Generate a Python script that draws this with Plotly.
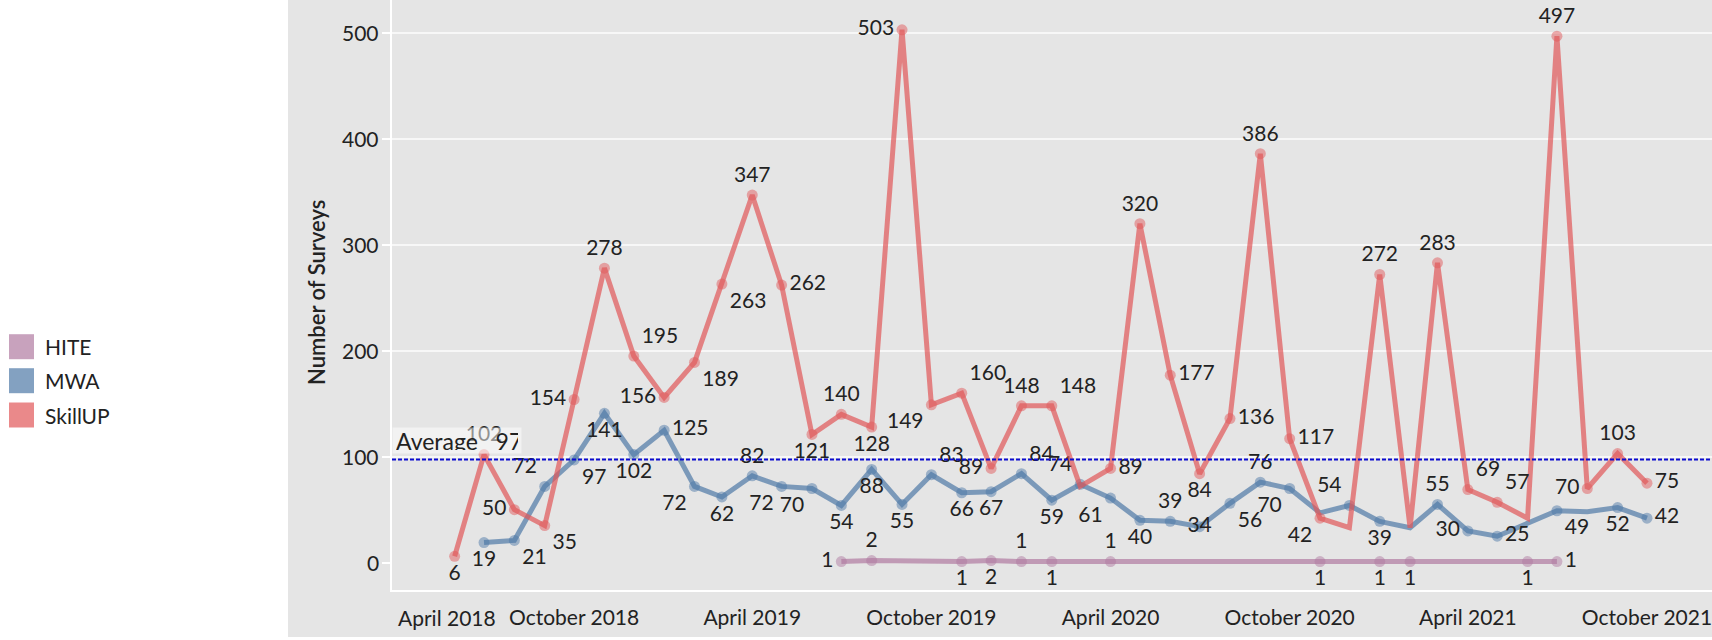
import pandas as pd
import plotly.graph_objects as go

# ---------------- data ----------------
months = [d.strftime("%Y-%m-%d") for d in pd.date_range("2018-06-01", "2021-10-01", freq="MS")]

series_names = ["HITE", "MWA", "SkillUP"]

#            Jun18..Dec18
skillup = [6, 102, 50, 35, 154, 278, 195,
           # 2019
           156, 189, 263, 347, 262, 121, 140, 128, 503, 149, 160, 89,
           # 2020
           148, 148, 72, 89, 320, 177, 84, 136, 386, 117, 42, 33,
           # 2021 Jan..Oct
           272, 33, 283, 69, 57, 42, 497, 70, 103, 75]

mwa = [None, 19, 21, 72, 97, 141, 102,
       125, 72, 62, 82, 72, 70, 54, 88, 55, 83, 66, 67,
       84, 59, 74, 61, 40, 39, 34, 56, 76, 70, 47, 54,
       39, 33, 55, 30, 25, 37, 49, 48, 52, 42]

hite = [None, None, None, None, None, None, None,
        None, None, None, None, None, None, 1, 2, None, None, 1, 2,
        1, 1, None, 1, None, None, None, None, None, None, 1, None,
        1, 1, None, None, None, 1, 1, None, None, None]

tick_dates = ["2018-04-01", "2018-10-01", "2019-04-01", "2019-10-01",
              "2020-04-01", "2020-10-01", "2021-04-01", "2021-10-01"]
tick_labels = ["April 2018", "October 2018", "April 2019", "October 2019",
               "April 2020", "October 2020", "April 2021", "October 2021"]
y_ticks = [0, 100, 200, 300, 400, 500]

# ---------------- label placement (style) ----------------
skillup_pos = ["bottom center", "top center", "middle left", "bottom right", "middle left", "top center", "top right",
               "middle left", "bottom right", "bottom right", "top center", "middle right", "bottom center",
               "top center", "bottom center", "middle left", "bottom left", "top right", "middle left",
               "top center", "top right", None, "middle right", "top center", "middle right", "bottom center",
               "middle right", "top center", "middle right", "bottom left", None,
               "top center", None, "top center", "top right", "top right", None, "top center", "middle left",
               "top center", "middle right"]
mwa_pos = [None, "bottom center", "bottom right", "top left", "bottom right", "bottom center", "bottom center",
           "middle right", "bottom left", "bottom center", "top center", "bottom left", "bottom left",
           "bottom center", "bottom center", "bottom center", "top right", "bottom center", "bottom center",
           "top right", "bottom center", "top left", "bottom left", "bottom center", "top center", "middle center",
           "bottom right", "top center", "bottom left", None, "top left",
           "bottom center", None, "top center", "middle left", "middle right", None, "bottom right", None,
           "bottom center", "middle right"]
hite_pos = [None] * 13 + ["middle left", "top center", None, None, "bottom center", "bottom center",
                          "top center", "bottom center", None, "top center"] + [None] * 6 + \
           ["bottom center", None, "bottom center", "bottom center", None, None, None,
            "bottom center", "middle right", None, None, None]

# ---------------- styling ----------------
FONT = "Lato"
TXT = "#222222"
BG = "#e5e5e5"
line_colors = {"HITE": "rgba(176,122,161,0.7)",
               "MWA": "rgba(78,121,167,0.7)",
               "SkillUP": "rgba(225,87,89,0.7)"}

W, H = 1712, 640
PL, PR, PT, PB = 392, 1712, 0, 590


def px_x(px):
    return (px - PL) / (PR - PL)


def px_y(py):
    return (PB - py) / (PB - PT)


fig = go.Figure()

data_map = {"HITE": (hite, hite_pos), "MWA": (mwa, mwa_pos), "SkillUP": (skillup, skillup_pos)}
for name in series_names:
    vals, pos = data_map[name]
    text = [(str(v) if (v is not None and p is not None) else "") for v, p in zip(vals, pos)]
    sizes = [11 if p is not None else 0 for p in pos]
    tpos = [p if p is not None else "top center" for p in pos]
    fig.add_trace(go.Scatter(
        x=months, y=vals, name=name, mode="lines+markers+text",
        connectgaps=True,
        line=dict(color=line_colors[name], width=5),
        marker=dict(color=line_colors[name], size=sizes, line=dict(width=0)),
        text=text, textposition=tpos,
        textfont=dict(family=FONT, size=21, color=TXT),
        cliponaxis=False, showlegend=False, hoverinfo="x+y+name",
    ))

all_vals = [v for s in (hite, mwa, skillup) for v in s if v is not None]
average = sum(all_vals) / len(all_vals)

shapes = [
    # gray pane around axes
    dict(type="rect", xref="paper", yref="paper", x0=px_x(288), x1=0, y0=px_y(637), y1=1,
         fillcolor=BG, line=dict(width=0), layer="below"),
    dict(type="rect", xref="paper", yref="paper", x0=0, x1=1, y0=px_y(637), y1=0,
         fillcolor=BG, line=dict(width=0), layer="below"),
    # zero line
    dict(type="line", xref="paper", yref="y", x0=0, x1=1, y0=0, y1=0,
         line=dict(color="#c9c9c9", width=1.2, dash="4px,3px"), layer="between"),
    # average reference line
    dict(type="line", xref="paper", yref="y", x0=0, x1=1, y0=average, y1=average,
         line=dict(color="#0a0ad0", width=2, dash="4px,2px"), layer="above"),
]

annotations = [
    dict(text="Number of Surveys", xref="paper", yref="paper", x=px_x(316), y=px_y(293),
         textangle=-90, showarrow=False, xanchor="center", yanchor="middle",
         font=dict(family=FONT, size=22, color=TXT, weight=600)),
    dict(text="Average\u00a0\u00a0\u00a0" + str(round(average)), xref="paper", yref="y", x=0, y=average,
         xanchor="left", yanchor="bottom", yshift=6, showarrow=False, align="left",
         width=122, height=19, borderpad=3, bgcolor="rgba(255,255,255,0.5)",
         font=dict(family=FONT, size=23, color=TXT)),
    dict(text=tick_labels[0], xref="x", yref="paper", x=tick_dates[0], y=px_y(617),
         xanchor="left", yanchor="middle", showarrow=False, xshift=1,
         font=dict(family=FONT, size=21, color=TXT)),
]

# y tick labels (placed exactly, right-aligned next to the ticks)
for v in y_ticks:
    annotations.append(dict(text=str(v), xref="paper", yref="y", x=px_x(381), y=v,
                            xanchor="right", yanchor="middle", showarrow=False,
                            font=dict(family=FONT, size=21, color=TXT)))

# legend (manual, square swatches)
row_y = [346.7, 380.7, 415.0]
for name, ry in zip(series_names, row_y):
    shapes.append(dict(type="rect", xref="paper", yref="paper",
                       x0=px_x(9), x1=px_x(34), y0=px_y(ry + 12.5), y1=px_y(ry - 12.5),
                       fillcolor=line_colors[name], line=dict(width=0)))
    annotations.append(dict(text=name, xref="paper", yref="paper", x=px_x(43), y=px_y(ry),
                            xanchor="left", yanchor="middle", showarrow=False,
                            font=dict(family=FONT, size=21, color=TXT)))

fig.update_layout(
    width=W, height=H,
    margin=dict(l=PL, r=W - PR, t=PT, b=H - PB, pad=0),
    paper_bgcolor="white", plot_bgcolor=BG,
    font=dict(family=FONT, size=21, color=TXT),
    shapes=shapes, annotations=annotations,
    xaxis=dict(type="date", range=["2018-03-29", "2021-12-06 10:00"],
               tickvals=tick_dates[1:], ticktext=tick_labels[1:],
               showgrid=False, zeroline=False, showline=True, linecolor="white", linewidth=1.5,
               ticks="", ticklabelstandoff=8, ticklabeloverflow="allow",
               tickfont=dict(family=FONT, size=21, color=TXT)),
    yaxis=dict(range=[-25.8, 531.1], tickvals=y_ticks, showticklabels=False,
               showgrid=True, gridcolor="#f7f7f7", gridwidth=1.5,
               zeroline=True, zerolinecolor=BG, zerolinewidth=2,
               showline=True, linecolor="white", linewidth=1.5,
               ticks="outside", ticklen=8, tickcolor="white", tickwidth=1.5),
)

fig.write_html("out.html", config={"displayModeBar": False},
               post_script="document.body.style.margin='0px';")
